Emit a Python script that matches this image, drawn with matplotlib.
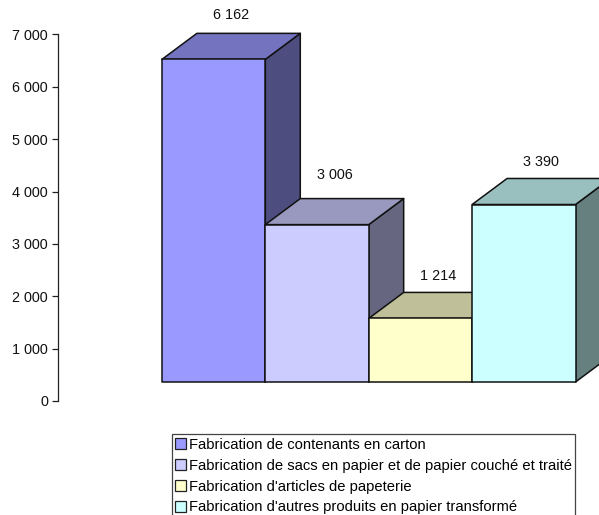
import matplotlib
matplotlib.use("Agg")
import matplotlib.pyplot as plt
from matplotlib.patches import Polygon, Rectangle

plt.rcParams['font.family'] = ['Liberation Sans', 'DejaVu Sans']

# Data
categories = ["Fabrication de contenants en carton",
              "Fabrication de sacs en papier et de papier couché et traité",
              "Fabrication d'articles de papeterie",
              "Fabrication d'autres produits en papier transformé"]
values = [6162, 3006, 1214, 3390]
value_labels = ["6 162", "3 006", "1 214", "3 390"]
ticks = [0, 1000, 2000, 3000, 4000, 5000, 6000, 7000]
tick_labels = ["0", "1 000", "2 000", "3 000", "4 000", "5 000", "6 000", "7 000"]

# Colours (front, top, side)
front_colors = ["#9999FF", "#CCCCFF", "#FFFFCC", "#CCFFFF"]
top_colors = ["#7373BF", "#9999BF", "#BFBF99", "#99BFBF"]
side_colors = ["#4D4D80", "#666680", "#808066", "#668080"]

# Fake 3D settings, in data units
base = 363      # floor of the box above the axis zero
depth_x = 0.338
depth_y = 497
label_lift = [18, 24, 16, 16]  # pixels above the back edge

fig = plt.figure(figsize=(5.99, 5.15), dpi=100)
ax = fig.add_axes([57.5 / 599, 114 / 515, 541.5 / 599, 366.5 / 515])
ax.set_xlim(-1.01, 4.227)
ax.set_ylim(0, 7000)

edge = dict(edgecolor="#111111", linewidth=1.1, joinstyle="round", clip_on=False)
for i, v in enumerate(values):
    top = base + v
    l, r = i, i + 1
    ax.add_patch(Polygon([(r, base), (r + depth_x, base + depth_y), (r + depth_x, top + depth_y), (r, top)],
                         facecolor=side_colors[i], zorder=2 + i, **edge))
    ax.add_patch(Polygon([(l, top), (l + depth_x, top + depth_y), (r + depth_x, top + depth_y), (r, top)],
                         facecolor=top_colors[i], zorder=2 + i, **edge))
    ax.add_patch(Rectangle((l, base), 1, v, facecolor=front_colors[i], zorder=2 + i, **edge))
    ax.annotate(value_labels[i], (i + 0.5 + depth_x / 2, top + depth_y),
                xytext=(0, label_lift[i] * 0.72), textcoords="offset points",
                ha="center", va="center", fontsize=10.4, color="#111111", annotation_clip=False)

ax.set_yticks(ticks)
ax.set_yticklabels(tick_labels, fontsize=10.4, color="#111111")
ax.tick_params(axis="y", length=4.3, width=0.9, pad=2.5, color="#222222")
ax.set_xticks([])
for s in ["top", "right", "bottom"]:
    ax.spines[s].set_visible(False)
ax.spines["left"].set_linewidth(0.9)
ax.spines["left"].set_color("#222222")

# Legend, runs past the bottom edge of the image like the original
handles = [Rectangle((0, 0), 1, 1, facecolor=c, edgecolor="#222222", linewidth=0.9) for c in front_colors]
leg = fig.legend(handles, categories, loc="upper left",
                 bbox_to_anchor=(171.5 / 599, 1 - 434 / 515), bbox_transform=fig.transFigure,
                 fontsize=10.6, frameon=True, fancybox=False, edgecolor="#444444", framealpha=1,
                 handlelength=0.72, handleheight=0.72, handletextpad=0.2,
                 labelspacing=0.47, borderpad=0.25, borderaxespad=0)
leg.get_frame().set_linewidth(0.9)

fig.savefig("out.png", dpi=100)
